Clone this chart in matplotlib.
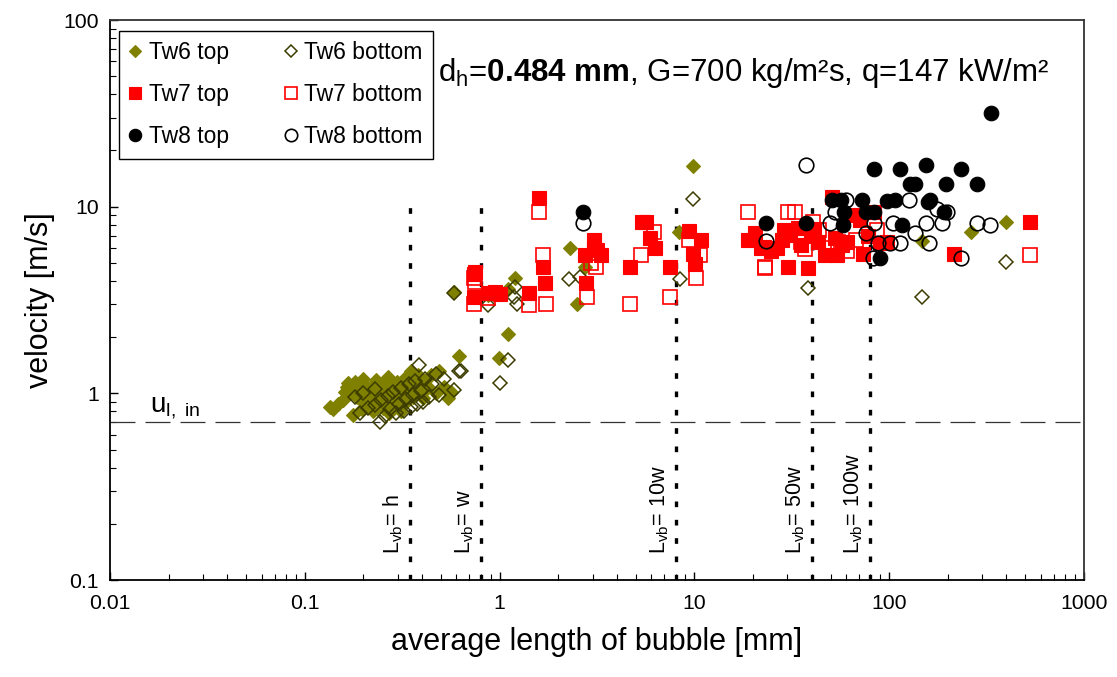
import matplotlib
matplotlib.use("Agg")
import matplotlib.pyplot as plt
import matplotlib.transforms as mtransforms
from matplotlib.ticker import FixedLocator, FixedFormatter, LogLocator, NullFormatter

plt.rcParams['font.family'] = ['Liberation Sans', 'DejaVu Sans']
plt.rcParams['mathtext.fontset'] = 'custom'
plt.rcParams['mathtext.rm'] = 'Liberation Sans'
plt.rcParams['mathtext.bf'] = 'Liberation Sans:bold'
plt.rcParams['mathtext.it'] = 'Liberation Sans:italic'

# ---------------- data ----------------
tw6_top_x = [0.134, 0.139, 0.148, 0.158, 0.167, 0.172, 0.177, 0.181, 0.186, 0.191, 0.196, 0.2,
             0.205, 0.21, 0.214, 0.219, 0.224, 0.228, 0.233, 0.238, 0.242, 0.247, 0.252, 0.257,
             0.261, 0.266, 0.271, 0.275, 0.285, 0.294, 0.299, 0.304, 0.313, 0.322, 0.332, 0.341,
             0.35, 0.36, 0.369, 0.378, 0.397, 0.406, 0.425, 0.443, 0.471, 0.49, 0.517, 0.545,
             0.563, 0.62,
             0.16, 0.165, 0.2, 0.23, 0.26, 0.29, 0.33, 0.35, 0.38, 0.42, 0.31, 0.27,
             0.58, 0.997, 1.11, 1.206, 1.10, 0.876, 2.29, 2.50, 2.73, 8.37, 9.8, 147, 262, 398]
tw6_top_y = [0.85, 0.82, 0.88, 0.92, 1.13, 1.0, 0.77, 1.15, 0.95, 1.05, 0.82, 0.9,
             1.1, 0.98, 0.85, 1.02, 0.8, 0.92, 1.18, 0.88, 1.08, 0.97, 0.83, 1.12,
             0.9, 1.23, 1.0, 0.86, 1.04, 0.93, 1.15, 0.85, 1.0, 1.2, 0.9, 1.08,
             1.31, 0.95, 1.12, 1.02, 1.18, 0.94, 1.1, 1.25, 1.0, 1.31, 1.08, 0.94,
             1.02, 1.59,
             1.02, 1.08, 1.2, 1.12, 0.9, 1.1, 1.12, 1.2, 1.25, 1.05, 0.8, 0.78,
             3.48, 1.55, 2.07, 4.16, 3.6, 3.35, 6.03, 3.01, 4.73, 7.34, 16.6, 6.57, 7.28, 8.27]

tw6_bot_x = [0.191, 0.21, 0.228, 0.242, 0.247, 0.257, 0.266, 0.275, 0.285, 0.294, 0.304, 0.313,
             0.322, 0.332, 0.341, 0.35, 0.36, 0.369, 0.378, 0.387, 0.397, 0.406, 0.415, 0.434,
             0.452, 0.471, 0.49, 0.517, 0.58, 0.636, 0.62, 0.18, 0.2, 0.23,
             0.58, 0.876, 1.006, 1.11, 1.206, 1.19, 1.225, 2.28, 2.58, 8.46, 9.88, 38.4, 147, 398]
tw6_bot_y = [0.78, 0.83, 0.87, 0.705, 0.92, 0.76, 0.97, 0.82, 1.02, 0.78, 0.88, 1.07,
             0.80, 0.93, 1.12, 0.84, 0.98, 1.17, 0.88, 1.42, 1.03, 0.90, 1.2, 0.95,
             1.12, 1.27, 0.98, 1.2, 1.04, 1.31, 1.32, 0.95, 1.0, 1.05,
             3.45, 2.97, 1.14, 1.50, 3.72, 3.29, 3.01, 4.11, 4.18, 4.11, 11.0, 3.68, 3.29, 5.07]

tw7_top_x = [0.738, 0.738, 0.876, 0.747, 1.42, 1.67, 1.71, 1.59, 3.05, 3.17, 2.76, 3.31, 2.79,
             3.04, 5.38, 5.65, 5.92, 6.28, 4.69, 7.48, 9.43, 10.85, 10.05, 9.88, 18.9, 22.0,
             22.7, 28.2, 31.0, 30.4, 38.4, 34.1, 43.2, 46.8, 53.7, 70.7, 83.3, 89.7, 97.0,
             73.6, 216, 528, 39.5, 50.7, 61, 65.3, 78.2, 52.4, 26.5, 24.7, 35.2, 20.5, 29.0,
             41.0, 57.0, 0.95, 1.0]
tw7_top_y = [4.34, 3.29, 3.43, 4.45, 3.46, 4.73, 3.88, 11.1, 6.63, 5.85, 5.5, 5.5, 3.88,
             6.0, 8.3, 8.3, 6.76, 6.03, 4.73, 4.73, 7.37, 6.63, 4.9, 5.6, 6.63, 5.98,
             6.1, 6.63, 7.05, 4.76, 4.67, 7.65, 6.5, 5.5, 5.5, 8.5, 9.4, 6.41, 6.5,
             5.6, 5.6, 8.3, 7.0, 11.2, 6.5, 9.0, 7.0, 6.8, 6.0, 5.8, 6.2, 7.2, 7.5,
             7.6, 6.2, 3.5, 3.4]

tw7_bot_x = [0.738, 0.738, 0.747, 0.876, 1.42, 1.73, 1.59, 1.67, 2.80, 3.12, 2.95, 5.29, 6.19,
             4.69, 7.48, 9.43, 10.67, 10.14, 18.9, 23.0, 30.4, 33.0, 40.8, 23.0, 36.9, 54.7,
             67.9, 528, 35.2, 43.8, 48.1, 61, 86.7]
tw7_bot_y = [4.13, 3.01, 3.96, 3.23, 2.97, 3.0, 9.4, 5.5, 3.29, 4.76, 5.0, 5.5, 7.34,
             3.01, 3.29, 6.63, 5.5, 4.13, 9.4, 4.73, 9.4, 9.4, 8.3, 4.67, 5.9, 6.5,
             6.63, 5.5, 6.5, 7.5, 6.0, 5.8, 7.5]

tw8_top_x = [2.67, 23.2, 37.4, 50.7, 56.9, 58.7, 57.6, 72.7, 76.0, 83.3, 83.8, 89.7, 97, 107,
             113, 116, 128, 135, 155, 158, 162, 190, 195, 235, 281, 332]
tw8_top_y = [9.4, 8.2, 8.2, 10.9, 10.9, 9.4, 7.97, 10.9, 9.4, 9.4, 15.9, 5.33, 10.7, 10.9,
             15.9, 7.97, 13.2, 13.2, 16.7, 10.6, 10.9, 9.4, 13.2, 15.9, 13.2, 31.8]

tw8_bot_x = [2.67, 23.2, 37.2, 49.8, 52.4, 59.9, 76, 82.5, 83.3, 87.6, 101, 105, 113, 126,
             135, 155, 161, 175, 187, 198, 234, 281, 331]
tw8_bot_y = [8.2, 6.57, 16.7, 8.2, 9.4, 10.9, 7.26, 5.28, 8.13, 6.41, 6.37, 8.2, 6.37, 10.9,
             7.26, 8.2, 6.37, 9.67, 8.2, 9.4, 5.33, 8.2, 7.97]

u_l_in = 0.7
vb_positions = [0.345, 0.8, 8.0, 40.0, 80.0]
vb_labels = ["h", "w", "10w", "50w", "100w"]
x_ticks = [0.01, 0.1, 1, 10, 100, 1000]
x_ticklabels = ["0.01", "0.1", "1", "10", "100", "1000"]
y_ticks = [0.1, 1, 10, 100]
y_ticklabels = ["0.1", "1", "10", "100"]

# ---------------- figure ----------------
fig = plt.figure(figsize=(11.17, 6.77), dpi=100)
ax = fig.add_axes([110 / 1117, 97 / 677, 974 / 1117, 560 / 677])
ax.set_xscale('log')
ax.set_yscale('log')
ax.set_xlim(0.01, 1000)
ax.set_ylim(0.1, 100)

olive = '#808000'
olive_dark = '#3c3c00'

ax.plot(tw6_top_x, tw6_top_y, ls='none', marker='D', ms=7.2, mfc=olive, mec=olive, mew=0.8,
        label='Tw6 top', zorder=3)
ax.plot(tw6_bot_x, tw6_bot_y, ls='none', marker='D', ms=7.2, mfc='none', mec=olive_dark, mew=1.1,
        label='Tw6 bottom', zorder=3)
ax.plot(tw7_top_x, tw7_top_y, ls='none', marker='s', ms=10, mfc='#ff0000', mec='#ff0000', mew=0.8,
        label='Tw7 top', zorder=4)
ax.plot(tw7_bot_x, tw7_bot_y, ls='none', marker='s', ms=10, mfc='none', mec='#ff0000', mew=1.2,
        label='Tw7 bottom', zorder=4)
ax.plot(tw8_top_x, tw8_top_y, ls='none', marker='o', ms=10.5, mfc='black', mec='black', mew=0.8,
        label='Tw8 top', zorder=5)
ax.plot(tw8_bot_x, tw8_bot_y, ls='none', marker='o', ms=10.5, mfc='none', mec='black', mew=1.2,
        label='Tw8 bottom', zorder=5)

# inlet liquid velocity
ax.axhline(u_l_in, color='#333333', lw=0.9, dashes=(25 / 0.9 * 0.72, 10 / 0.9 * 0.72), zorder=2)
ax.text(0.0160, 0.79, r'u$_{\mathregular{l,\ in}}$', fontsize=20, ha='left', va='baseline')

# vertical lines for characteristic lengths
lab_trans = mtransforms.offset_copy(ax.transData, fig=fig, x=-5, y=0, units='dots')
for xv, lab in zip(vb_positions, vb_labels):
    ax.plot([xv, xv], [0.1, 10], color='black', lw=2.4, dashes=(1.7, 3.8), zorder=2)
    ax.text(xv, 0.138, r'L$_{\mathregular{vb}}$= ' + lab, rotation=90, fontsize=15.5,
            ha='right', va='bottom', transform=lab_trans)

ax.text((438 - 110) / 974, (580 - 81) / 560,
        r'd$_{\mathregular{h}}$=$\mathbf{0.484\ mm}$, G=700 kg/m²s, q=147 kW/m²',
        transform=ax.transAxes, fontsize=22.5, ha='left', va='baseline')

# axes styling
ax.xaxis.set_major_locator(FixedLocator(x_ticks))
ax.xaxis.set_major_formatter(FixedFormatter(x_ticklabels))
ax.yaxis.set_major_locator(FixedLocator(y_ticks))
ax.yaxis.set_major_formatter(FixedFormatter(y_ticklabels))
ax.xaxis.set_minor_locator(LogLocator(base=10, subs=range(2, 10)))
ax.yaxis.set_minor_locator(LogLocator(base=10, subs=range(2, 10)))
ax.xaxis.set_minor_formatter(NullFormatter())
ax.yaxis.set_minor_formatter(NullFormatter())
ax.tick_params(which='both', direction='in', top=False, right=False, labelsize=15.3)
ax.tick_params(axis='x', pad=10)
ax.tick_params(axis='y', pad=8)
ax.tick_params(which='major', length=6, width=1)
ax.tick_params(which='minor', length=4, width=0.8)
for s in ax.spines.values():
    s.set_linewidth(1.3)
    s.set_color('black')
ax.spines['top'].set_color('#333333')
ax.spines['right'].set_color('#333333')

ax.set_xlabel('average length of bubble [mm]', fontsize=22, labelpad=10)
ax.set_ylabel('velocity [m/s]', fontsize=22, labelpad=6)

handles, labels = ax.get_legend_handles_labels()
order = [0, 2, 4, 1, 3, 5]
leg = ax.legend([handles[i] for i in order], [labels[i] for i in order], ncol=2,
                loc='upper left', bbox_to_anchor=((119 - 110) / 974, (580 - 31) / 560),
                fontsize=16.5, frameon=True, fancybox=False, edgecolor='black', framealpha=1,
                handlelength=0.5, handletextpad=0.34, columnspacing=2.45, labelspacing=0.83,
                borderpad=0.45, borderaxespad=0, numpoints=1, markerscale=0.85)
leg.get_frame().set_linewidth(1.0)

fig.savefig('out.png', dpi=100)
